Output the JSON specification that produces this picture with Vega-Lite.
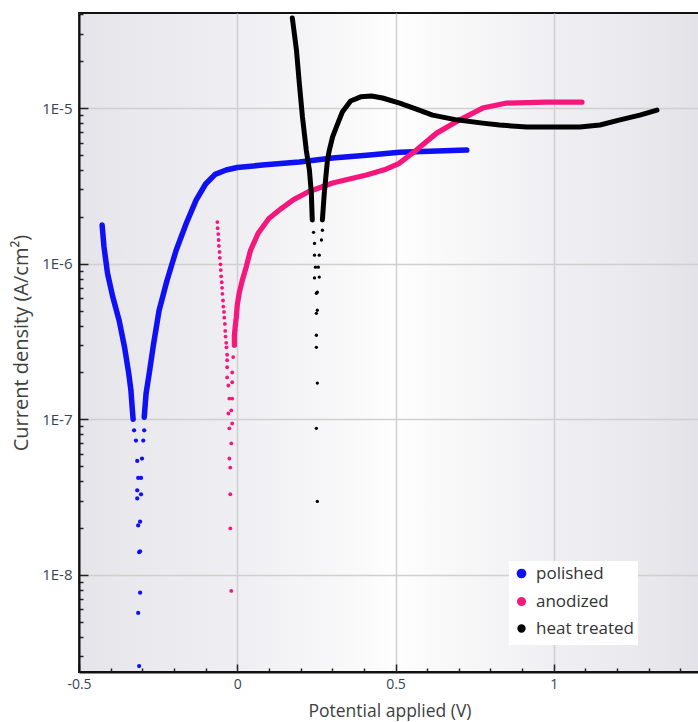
{
  "$schema": "https://vega.github.io/schema/vega-lite/v6.json",
  "width": 621,
  "height": 659,
  "autosize": {"type": "none"},
  "padding": {"left": 79, "top": 13, "right": 0, "bottom": 50},
  "background": "white",
  "config": {
    "view": {
      "stroke": "#111111",
      "strokeWidth": 2,
      "fill": {
        "gradient": "linear",
        "x1": 0, "y1": 0, "x2": 1, "y2": 0,
        "stops": [
          {"offset": 0, "color": "#e4e4ea"},
          {"offset": 0.08, "color": "#e8e8ed"},
          {"offset": 0.17, "color": "#ebebf0"},
          {"offset": 0.26, "color": "#efeff3"},
          {"offset": 0.35, "color": "#f4f4f6"},
          {"offset": 0.44, "color": "#f9f9fa"},
          {"offset": 0.51, "color": "#fefefe"},
          {"offset": 0.57, "color": "#fafafa"},
          {"offset": 0.68, "color": "#f4f4f6"},
          {"offset": 0.77, "color": "#efeff3"},
          {"offset": 0.85, "color": "#ebebf0"},
          {"offset": 0.93, "color": "#e7e7ec"},
          {"offset": 1, "color": "#e2e2e8"}
        ]
      }
    },
    "font": "Open Sans",
    "axis": {
      "labelFont": "Open Sans",
      "titleFont": "Open Sans",
      "titleFontWeight": "normal",
      "titleColor": "#404040",
      "labelColor": "#34455a",
      "domainColor": "#111111",
      "domainWidth": 2,
      "tickColor": "#222222",
      "tickWidth": 1.5,
      "ticks": true,
      "labelOverlap": false,
      "labelFlush": false
    }
  },
  "data": {
    "values": [
      {"s": "polished", "b": "c", "i": 0, "v": -0.427, "j": 1.77e-6},
      {"s": "polished", "b": "c", "i": 1, "v": -0.421, "j": 1.28e-6},
      {"s": "polished", "b": "c", "i": 2, "v": -0.41, "j": 8.7e-7},
      {"s": "polished", "b": "c", "i": 3, "v": -0.394, "j": 6.2e-7},
      {"s": "polished", "b": "c", "i": 4, "v": -0.373, "j": 4.3e-7},
      {"s": "polished", "b": "c", "i": 5, "v": -0.356, "j": 2.9e-7},
      {"s": "polished", "b": "c", "i": 6, "v": -0.343, "j": 1.98e-7},
      {"s": "polished", "b": "c", "i": 7, "v": -0.336, "j": 1.54e-7},
      {"s": "polished", "b": "c", "i": 8, "v": -0.332, "j": 1.19e-7},
      {"s": "polished", "b": "c", "i": 9, "v": -0.329, "j": 1.0e-7},
      {"s": "polished", "b": "c", "i": 10, "v": -0.326, "j": 8.5e-8},
      {"s": "polished", "b": "c", "i": 11, "v": -0.32, "j": 7.3e-8},
      {"s": "polished", "b": "c", "i": 12, "v": -0.316, "j": 5.4e-8},
      {"s": "polished", "b": "c", "i": 13, "v": -0.313, "j": 4.2e-8},
      {"s": "polished", "b": "c", "i": 14, "v": -0.316, "j": 3.5e-8},
      {"s": "polished", "b": "c", "i": 15, "v": -0.316, "j": 3.1e-8},
      {"s": "polished", "b": "c", "i": 16, "v": -0.313, "j": 2.08e-8},
      {"s": "polished", "b": "c", "i": 17, "v": -0.31, "j": 1.4e-8},
      {"s": "polished", "b": "c", "i": 18, "v": -0.307, "j": 7.7e-9},
      {"s": "polished", "b": "c", "i": 19, "v": -0.313, "j": 5.7e-9},
      {"s": "polished", "b": "c", "i": 20, "v": -0.31, "j": 2.6e-9},
      {"s": "polished", "b": "a", "i": 21, "v": -0.307, "j": 1.42e-8},
      {"s": "polished", "b": "a", "i": 22, "v": -0.307, "j": 2.2e-8},
      {"s": "polished", "b": "a", "i": 23, "v": -0.304, "j": 3.3e-8},
      {"s": "polished", "b": "a", "i": 24, "v": -0.304, "j": 4.2e-8},
      {"s": "polished", "b": "a", "i": 25, "v": -0.301, "j": 5.6e-8},
      {"s": "polished", "b": "a", "i": 26, "v": -0.297, "j": 7.3e-8},
      {"s": "polished", "b": "a", "i": 27, "v": -0.294, "j": 8.5e-8},
      {"s": "polished", "b": "a", "i": 28, "v": -0.294, "j": 1.03e-7},
      {"s": "polished", "b": "a", "i": 29, "v": -0.288, "j": 1.47e-7},
      {"s": "polished", "b": "a", "i": 30, "v": -0.278, "j": 1.98e-7},
      {"s": "polished", "b": "a", "i": 31, "v": -0.265, "j": 3.0e-7},
      {"s": "polished", "b": "a", "i": 32, "v": -0.247, "j": 5.0e-7},
      {"s": "polished", "b": "a", "i": 33, "v": -0.222, "j": 7.8e-7},
      {"s": "polished", "b": "a", "i": 34, "v": -0.193, "j": 1.22e-6},
      {"s": "polished", "b": "a", "i": 35, "v": -0.161, "j": 1.82e-6},
      {"s": "polished", "b": "a", "i": 36, "v": -0.13, "j": 2.56e-6},
      {"s": "polished", "b": "a", "i": 37, "v": -0.1, "j": 3.25e-6},
      {"s": "polished", "b": "a", "i": 38, "v": -0.07, "j": 3.75e-6},
      {"s": "polished", "b": "a", "i": 39, "v": -0.035, "j": 4.0e-6},
      {"s": "polished", "b": "a", "i": 40, "v": 0.0, "j": 4.15e-6},
      {"s": "polished", "b": "a", "i": 41, "v": 0.079, "j": 4.3e-6},
      {"s": "polished", "b": "a", "i": 42, "v": 0.196, "j": 4.5e-6},
      {"s": "polished", "b": "a", "i": 43, "v": 0.301, "j": 4.77e-6},
      {"s": "polished", "b": "a", "i": 44, "v": 0.418, "j": 5.0e-6},
      {"s": "polished", "b": "a", "i": 45, "v": 0.513, "j": 5.2e-6},
      {"s": "polished", "b": "a", "i": 46, "v": 0.608, "j": 5.28e-6},
      {"s": "polished", "b": "a", "i": 47, "v": 0.725, "j": 5.37e-6},

      {"s": "anodized", "b": "c", "i": 0, "v": -0.063, "j": 1.85e-6},
      {"s": "anodized", "b": "c", "i": 1, "v": -0.062, "j": 1.69e-6},
      {"s": "anodized", "b": "c", "i": 2, "v": -0.06, "j": 1.55e-6},
      {"s": "anodized", "b": "c", "i": 3, "v": -0.059, "j": 1.42e-6},
      {"s": "anodized", "b": "c", "i": 4, "v": -0.058, "j": 1.3e-6},
      {"s": "anodized", "b": "c", "i": 5, "v": -0.056, "j": 1.19e-6},
      {"s": "anodized", "b": "c", "i": 6, "v": -0.055, "j": 1.09e-6},
      {"s": "anodized", "b": "c", "i": 7, "v": -0.053, "j": 9.9e-7},
      {"s": "anodized", "b": "c", "i": 8, "v": -0.052, "j": 9.1e-7},
      {"s": "anodized", "b": "c", "i": 9, "v": -0.051, "j": 8.3e-7},
      {"s": "anodized", "b": "c", "i": 10, "v": -0.049, "j": 7.6e-7},
      {"s": "anodized", "b": "c", "i": 11, "v": -0.048, "j": 7.0e-7},
      {"s": "anodized", "b": "c", "i": 12, "v": -0.047, "j": 6.4e-7},
      {"s": "anodized", "b": "c", "i": 13, "v": -0.045, "j": 5.8e-7},
      {"s": "anodized", "b": "c", "i": 14, "v": -0.044, "j": 5.3e-7},
      {"s": "anodized", "b": "c", "i": 15, "v": -0.042, "j": 4.9e-7},
      {"s": "anodized", "b": "c", "i": 16, "v": -0.041, "j": 4.5e-7},
      {"s": "anodized", "b": "c", "i": 17, "v": -0.039, "j": 4.1e-7},
      {"s": "anodized", "b": "c", "i": 18, "v": -0.038, "j": 3.7e-7},
      {"s": "anodized", "b": "c", "i": 19, "v": -0.037, "j": 3.4e-7},
      {"s": "anodized", "b": "c", "i": 20, "v": -0.035, "j": 3.1e-7},
      {"s": "anodized", "b": "c", "i": 21, "v": -0.034, "j": 2.9e-7},
      {"s": "anodized", "b": "c", "i": 22, "v": -0.032, "j": 2.6e-7},
      {"s": "anodized", "b": "c", "i": 23, "v": -0.032, "j": 2.4e-7},
      {"s": "anodized", "b": "c", "i": 24, "v": -0.032, "j": 2.16e-7},
      {"s": "anodized", "b": "c", "i": 25, "v": -0.032, "j": 1.86e-7},
      {"s": "anodized", "b": "c", "i": 26, "v": -0.028, "j": 1.65e-7},
      {"s": "anodized", "b": "c", "i": 27, "v": -0.025, "j": 1.36e-7},
      {"s": "anodized", "b": "c", "i": 28, "v": -0.028, "j": 1.09e-7},
      {"s": "anodized", "b": "c", "i": 29, "v": -0.025, "j": 8.75e-8},
      {"s": "anodized", "b": "c", "i": 30, "v": -0.025, "j": 5.6e-8},
      {"s": "anodized", "b": "c", "i": 31, "v": -0.022, "j": 3.3e-8},
      {"s": "anodized", "b": "c", "i": 32, "v": -0.019, "j": 7.9e-9},
      {"s": "anodized", "b": "a", "i": 33, "v": -0.022, "j": 1.99e-8},
      {"s": "anodized", "b": "a", "i": 34, "v": -0.022, "j": 4.9e-8},
      {"s": "anodized", "b": "a", "i": 35, "v": -0.019, "j": 7.0e-8},
      {"s": "anodized", "b": "a", "i": 36, "v": -0.016, "j": 9.4e-8},
      {"s": "anodized", "b": "a", "i": 37, "v": -0.019, "j": 1.14e-7},
      {"s": "anodized", "b": "a", "i": 38, "v": -0.016, "j": 1.36e-7},
      {"s": "anodized", "b": "a", "i": 39, "v": -0.016, "j": 1.73e-7},
      {"s": "anodized", "b": "a", "i": 40, "v": -0.016, "j": 2.0e-7},
      {"s": "anodized", "b": "a", "i": 41, "v": -0.013, "j": 2.51e-7},
      {"s": "anodized", "b": "a", "i": 42, "v": -0.009, "j": 2.99e-7},
      {"s": "anodized", "b": "a", "i": 43, "v": -0.009, "j": 3.47e-7},
      {"s": "anodized", "b": "a", "i": 44, "v": -0.006, "j": 4.03e-7},
      {"s": "anodized", "b": "a", "i": 45, "v": -0.003, "j": 4.53e-7},
      {"s": "anodized", "b": "a", "i": 46, "v": 0.0, "j": 5.41e-7},
      {"s": "anodized", "b": "a", "i": 47, "v": 0.006, "j": 6.46e-7},
      {"s": "anodized", "b": "a", "i": 48, "v": 0.016, "j": 7.83e-7},
      {"s": "anodized", "b": "a", "i": 49, "v": 0.028, "j": 9.5e-7},
      {"s": "anodized", "b": "a", "i": 50, "v": 0.042, "j": 1.22e-6},
      {"s": "anodized", "b": "a", "i": 51, "v": 0.066, "j": 1.57e-6},
      {"s": "anodized", "b": "a", "i": 52, "v": 0.1, "j": 1.95e-6},
      {"s": "anodized", "b": "a", "i": 53, "v": 0.14, "j": 2.27e-6},
      {"s": "anodized", "b": "a", "i": 54, "v": 0.178, "j": 2.58e-6},
      {"s": "anodized", "b": "a", "i": 55, "v": 0.225, "j": 2.9e-6},
      {"s": "anodized", "b": "a", "i": 56, "v": 0.301, "j": 3.3e-6},
      {"s": "anodized", "b": "a", "i": 57, "v": 0.408, "j": 3.71e-6},
      {"s": "anodized", "b": "a", "i": 58, "v": 0.47, "j": 4.05e-6},
      {"s": "anodized", "b": "a", "i": 59, "v": 0.51, "j": 4.4e-6},
      {"s": "anodized", "b": "a", "i": 60, "v": 0.566, "j": 5.37e-6},
      {"s": "anodized", "b": "a", "i": 61, "v": 0.63, "j": 6.9e-6},
      {"s": "anodized", "b": "a", "i": 62, "v": 0.703, "j": 8.4e-6},
      {"s": "anodized", "b": "a", "i": 63, "v": 0.775, "j": 1.0e-5},
      {"s": "anodized", "b": "a", "i": 64, "v": 0.851, "j": 1.077e-5},
      {"s": "anodized", "b": "a", "i": 65, "v": 0.978, "j": 1.09e-5},
      {"s": "anodized", "b": "a", "i": 66, "v": 1.089, "j": 1.09e-5},

      {"s": "heat treated", "b": "c", "i": 0, "v": 0.174, "j": 3.79e-5},
      {"s": "heat treated", "b": "c", "i": 1, "v": 0.187, "j": 2.36e-5},
      {"s": "heat treated", "b": "c", "i": 2, "v": 0.196, "j": 1.45e-5},
      {"s": "heat treated", "b": "c", "i": 3, "v": 0.206, "j": 8.75e-6},
      {"s": "heat treated", "b": "c", "i": 4, "v": 0.218, "j": 5.37e-6},
      {"s": "heat treated", "b": "c", "i": 5, "v": 0.228, "j": 3.99e-6},
      {"s": "heat treated", "b": "c", "i": 6, "v": 0.234, "j": 2.84e-6},
      {"s": "heat treated", "b": "c", "i": 7, "v": 0.237, "j": 1.91e-6},
      {"s": "heat treated", "b": "c", "i": 8, "v": 0.241, "j": 1.59e-6},
      {"s": "heat treated", "b": "c", "i": 9, "v": 0.244, "j": 1.35e-6},
      {"s": "heat treated", "b": "c", "i": 10, "v": 0.244, "j": 1.135e-6},
      {"s": "heat treated", "b": "c", "i": 11, "v": 0.247, "j": 9.5e-7},
      {"s": "heat treated", "b": "c", "i": 12, "v": 0.244, "j": 8.1e-7},
      {"s": "heat treated", "b": "c", "i": 13, "v": 0.25, "j": 6.46e-7},
      {"s": "heat treated", "b": "c", "i": 14, "v": 0.25, "j": 4.8e-7},
      {"s": "heat treated", "b": "c", "i": 15, "v": 0.25, "j": 3.47e-7},
      {"s": "heat treated", "b": "c", "i": 16, "v": 0.253, "j": 1.71e-7},
      {"s": "heat treated", "b": "c", "i": 17, "v": 0.253, "j": 2.97e-8},
      {"s": "heat treated", "b": "a", "i": 18, "v": 0.25, "j": 8.75e-8},
      {"s": "heat treated", "b": "a", "i": 19, "v": 0.25, "j": 2.9e-7},
      {"s": "heat treated", "b": "a", "i": 20, "v": 0.253, "j": 5.02e-7},
      {"s": "heat treated", "b": "a", "i": 21, "v": 0.253, "j": 6.56e-7},
      {"s": "heat treated", "b": "a", "i": 22, "v": 0.259, "j": 8.2e-7},
      {"s": "heat treated", "b": "a", "i": 23, "v": 0.256, "j": 9.5e-7},
      {"s": "heat treated", "b": "a", "i": 24, "v": 0.259, "j": 1.135e-6},
      {"s": "heat treated", "b": "a", "i": 25, "v": 0.266, "j": 1.42e-6},
      {"s": "heat treated", "b": "a", "i": 26, "v": 0.269, "j": 1.64e-6},
      {"s": "heat treated", "b": "a", "i": 27, "v": 0.269, "j": 1.91e-6},
      {"s": "heat treated", "b": "a", "i": 28, "v": 0.275, "j": 2.84e-6},
      {"s": "heat treated", "b": "a", "i": 29, "v": 0.285, "j": 4.63e-6},
      {"s": "heat treated", "b": "a", "i": 30, "v": 0.291, "j": 5.37e-6},
      {"s": "heat treated", "b": "a", "i": 31, "v": 0.301, "j": 6.51e-6},
      {"s": "heat treated", "b": "a", "i": 32, "v": 0.313, "j": 7.55e-6},
      {"s": "heat treated", "b": "a", "i": 33, "v": 0.332, "j": 9.43e-6},
      {"s": "heat treated", "b": "a", "i": 34, "v": 0.358, "j": 1.11e-5},
      {"s": "heat treated", "b": "a", "i": 35, "v": 0.39, "j": 1.18e-5},
      {"s": "heat treated", "b": "a", "i": 36, "v": 0.424, "j": 1.195e-5},
      {"s": "heat treated", "b": "a", "i": 37, "v": 0.459, "j": 1.16e-5},
      {"s": "heat treated", "b": "a", "i": 38, "v": 0.513, "j": 1.077e-5},
      {"s": "heat treated", "b": "a", "i": 39, "v": 0.566, "j": 9.85e-6},
      {"s": "heat treated", "b": "a", "i": 40, "v": 0.617, "j": 9.0e-6},
      {"s": "heat treated", "b": "a", "i": 41, "v": 0.693, "j": 8.4e-6},
      {"s": "heat treated", "b": "a", "i": 42, "v": 0.775, "j": 8.0e-6},
      {"s": "heat treated", "b": "a", "i": 43, "v": 0.829, "j": 7.78e-6},
      {"s": "heat treated", "b": "a", "i": 44, "v": 0.915, "j": 7.55e-6},
      {"s": "heat treated", "b": "a", "i": 45, "v": 0.997, "j": 7.55e-6},
      {"s": "heat treated", "b": "a", "i": 46, "v": 1.082, "j": 7.55e-6},
      {"s": "heat treated", "b": "a", "i": 47, "v": 1.146, "j": 7.78e-6},
      {"s": "heat treated", "b": "a", "i": 48, "v": 1.209, "j": 8.4e-6},
      {"s": "heat treated", "b": "a", "i": 49, "v": 1.272, "j": 9.0e-6},
      {"s": "heat treated", "b": "a", "i": 50, "v": 1.326, "j": 9.7e-6}
    ]
  },
  "layer": [
    {
      "mark": {"type": "point", "filled": true, "opacity": 1},
      "encoding": {
        "x": {
          "field": "v", "type": "quantitative",
          "scale": {"domain": [-0.5, 1.462], "nice": false, "zero": false},
          "axis": {
            "orient": "bottom",
            "values": [-0.5, -0.4, -0.3, -0.2, -0.1, 0, 0.1, 0.2, 0.3, 0.4, 0.5, 0.6, 0.7, 0.8, 0.9, 1, 1.1, 1.2, 1.3, 1.4],
            "labelExpr": "abs(datum.value*2-round(datum.value*2))<0.01 ? toString(round(datum.value*10)/10) : ''",
            "tickSize": {"condition": {"test": "abs(datum.value*2-round(datum.value*2))<0.01", "value": -8}, "value": -4},
            "grid": true,
            "gridColor": "#d0d0d0",
            "gridWidth": 1.5,
            "gridOpacity": {"condition": {"test": "abs(datum.value*2-round(datum.value*2))<0.01", "value": 1}, "value": 0},
            "labelFontSize": 14,
            "labelPadding": 13,
            "title": "Potential applied (V)",
            "titleFontSize": 17.5,
            "titlePadding": 7
          }
        },
        "y": {
          "field": "j", "type": "quantitative",
          "scale": {"type": "log", "domain": [2.38e-9, 4.08e-5], "nice": false},
          "axis": {
            "orient": "left",
            "values": [3e-9, 4e-9, 5e-9, 6e-9, 7e-9, 8e-9, 9e-9, 1e-8, 2e-8, 3e-8, 4e-8, 5e-8, 6e-8, 7e-8, 8e-8, 9e-8, 1e-7, 2e-7, 3e-7, 4e-7, 5e-7, 6e-7, 7e-7, 8e-7, 9e-7, 1e-6, 2e-6, 3e-6, 4e-6, 5e-6, 6e-6, 7e-6, 8e-6, 9e-6, 1e-5, 2e-5, 3e-5, 4e-5],
            "labelExpr": "abs(log(datum.value)/LN10 - round(log(datum.value)/LN10)) < 0.01 ? '1E' + round(log(datum.value)/LN10) : ''",
            "tickSize": {"condition": {"test": "abs(log(datum.value)/LN10 - round(log(datum.value)/LN10)) < 0.01", "value": -9}, "value": -4},
            "grid": true,
            "gridColor": "#d0d0d0",
            "gridWidth": 1.5,
            "gridOpacity": {"condition": {"test": "abs(log(datum.value)/LN10 - round(log(datum.value)/LN10)) < 0.01", "value": 1}, "value": 0},
            "labelFontSize": 15,
            "labelPadding": 16,
            "title": "Current density (A/cm²)",
            "titleFontSize": 20,
            "titlePadding": 10
          }
        },
        "color": {
          "field": "s", "type": "nominal",
          "scale": {"domain": ["polished", "anodized", "heat treated"], "range": ["#1010f5", "#f5177c", "#000000"]},
          "legend": {
            "orient": "none",
            "legendX": 430,
            "legendY": 548,
            "title": null,
            "fillColor": "#ffffff",
            "padding": 4,
            "symbolType": "circle",
            "symbolSize": 120,
            "symbolStrokeWidth": 0,
            "labelFont": "Open Sans",
            "labelFontSize": 17,
            "labelColor": "#333333",
            "labelOffset": 6,
            "rowPadding": 2
          }
        },
        "size": {
          "field": "s", "type": "nominal",
          "scale": {"domain": ["polished", "anodized", "heat treated"], "range": [18, 11, 11]},
          "legend": null
        }
      }
    },
    {
      "transform": [
        {"filter": "(datum.s == 'polished' && datum.j >= 9.5e-8) || (datum.s == 'anodized' && datum.b == 'a' && datum.j >= 2.9e-7) || (datum.s == 'heat treated' && datum.j >= 1.8e-6)"}
      ],
      "mark": {"type": "line", "strokeCap": "round", "strokeJoin": "round"},
      "encoding": {
        "x": {
          "field": "v", "type": "quantitative",
          "scale": {"domain": [-0.5, 1.462], "nice": false, "zero": false},
          "axis": {
            "orient": "bottom",
            "values": [-0.5, -0.4, -0.3, -0.2, -0.1, 0, 0.1, 0.2, 0.3, 0.4, 0.5, 0.6, 0.7, 0.8, 0.9, 1, 1.1, 1.2, 1.3, 1.4],
            "labelExpr": "abs(datum.value*2-round(datum.value*2))<0.01 ? toString(round(datum.value*10)/10) : ''",
            "tickSize": {"condition": {"test": "abs(datum.value*2-round(datum.value*2))<0.01", "value": -8}, "value": -4},
            "grid": true,
            "gridColor": "#d0d0d0",
            "gridWidth": 1.5,
            "gridOpacity": {"condition": {"test": "abs(datum.value*2-round(datum.value*2))<0.01", "value": 1}, "value": 0},
            "labelFontSize": 14,
            "labelPadding": 13,
            "title": "Potential applied (V)",
            "titleFontSize": 17.5,
            "titlePadding": 7
          }
        },
        "y": {
          "field": "j", "type": "quantitative",
          "scale": {"type": "log", "domain": [2.38e-9, 4.08e-5], "nice": false},
          "axis": {
            "orient": "left",
            "values": [3e-9, 4e-9, 5e-9, 6e-9, 7e-9, 8e-9, 9e-9, 1e-8, 2e-8, 3e-8, 4e-8, 5e-8, 6e-8, 7e-8, 8e-8, 9e-8, 1e-7, 2e-7, 3e-7, 4e-7, 5e-7, 6e-7, 7e-7, 8e-7, 9e-7, 1e-6, 2e-6, 3e-6, 4e-6, 5e-6, 6e-6, 7e-6, 8e-6, 9e-6, 1e-5, 2e-5, 3e-5, 4e-5],
            "labelExpr": "abs(log(datum.value)/LN10 - round(log(datum.value)/LN10)) < 0.01 ? '1E' + round(log(datum.value)/LN10) : ''",
            "tickSize": {"condition": {"test": "abs(log(datum.value)/LN10 - round(log(datum.value)/LN10)) < 0.01", "value": -9}, "value": -4},
            "grid": true,
            "gridColor": "#d0d0d0",
            "gridWidth": 1.5,
            "gridOpacity": {"condition": {"test": "abs(log(datum.value)/LN10 - round(log(datum.value)/LN10)) < 0.01", "value": 1}, "value": 0},
            "labelFontSize": 15,
            "labelPadding": 16,
            "title": "Current density (A/cm²)",
            "titleFontSize": 20,
            "titlePadding": 10
          }
        },
        "color": {
          "field": "s", "type": "nominal",
          "scale": {"domain": ["polished", "anodized", "heat treated"], "range": ["#1010f5", "#f5177c", "#000000"]}
        },
        "strokeWidth": {
          "field": "s", "type": "nominal",
          "scale": {"domain": ["polished", "anodized", "heat treated"], "range": [5.5, 5, 4]},
          "legend": null
        },
        "detail": {"field": "b"},
        "order": {"field": "i", "type": "quantitative"}
      }
    }
  ]
}
